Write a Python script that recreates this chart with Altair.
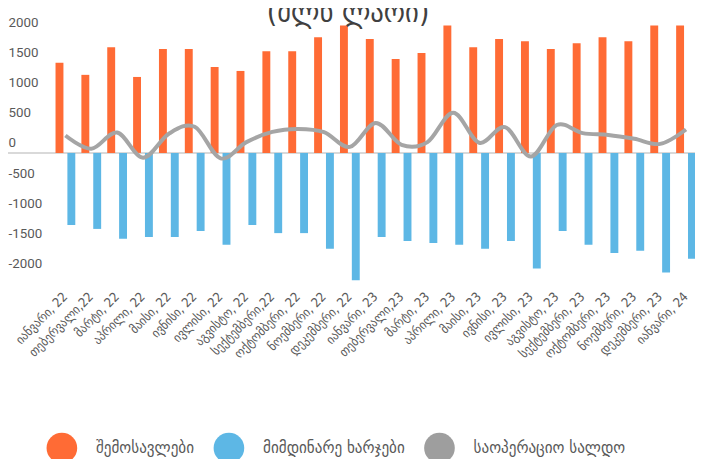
import altair as alt
import pandas as pd

MONTHS = ["იანვარი, 22", "თებერვალი,22", "მარტი, 22", "აპრილი, 22", "მაისი, 22",
          "ივნისი, 22", "ივლისი, 22", "აგვისტო, 22", "სექტემბერი,22", "ოქტომბერი, 22",
          "ნოემბერი, 22", "დეკემბერი, 22", "იანვარი, 23", "თებერვალი,23", "მარტი, 23",
          "აპრილი, 23", "მაისი, 23", "ივნისი, 23", "ივლისი, 23", "აგვისტო, 23",
          "სექტემბერი, 23", "ოქტომბერი, 23", "ნოემბერი, 23", "დეკემბერი, 23", "იანვარი, 24"]

REVENUE = [1500, 1300, 1760, 1265, 1730, 1730, 1430, 1365, 1695, 1695, 1925, 2120,
           1895, 1565, 1665, 2120, 1760, 1895, 1860, 1730, 1825, 1925, 1860, 2120, 2120]
EXPENSES = [-1200, -1265, -1430, -1400, -1400, -1300, -1530, -1200, -1335, -1335, -1595, -2120,
            -1400, -1465, -1500, -1530, -1595, -1465, -1925, -1300, -1530, -1665, -1630, -1990, -1760]
BALANCE = [290, 70, 340, -80, 320, 435, -90, 180, 350, 400, 345, 100,
           500, 135, 180, 670, 170, 430, -60, 465, 330, 300, 235, 150, 390]

SERIES = ["შემოსავლები", "მიმდინარე ხარჯები", "საოპერაციო სალდო"]
COLORS = ["#FF6B35", "#5DB7E5", "#9E9E9E"]
TITLE = "(მლნ ლარი)"
Y_TICKS = [-2000, -1500, -1000, -500, 0, 500, 1000, 1500, 2000]

GEO_FONT = "DejaVu Sans Condensed, DejaVu Sans"
TEXT_COLOR = "#595959"

bars_df = pd.DataFrame({
    "month": MONTHS * 2,
    "series": [SERIES[0]] * len(MONTHS) + [SERIES[1]] * len(MONTHS),
    "value": REVENUE + EXPENSES,
})
line_df = pd.DataFrame({"month": MONTHS, "value": BALANCE})
title_df = pd.DataFrame({"t": [TITLE]})

y_scale = alt.Scale(domain=[-2156, 2123], nice=False, zero=False)
x_scale = alt.Scale(range=[0, 654], paddingInner=0, paddingOuter=0)

x_axis = alt.Axis(title=None, labelAngle=-45, labelAlign="right", labelBaseline="middle",
                  labelPadding=12, ticks=False, domain=False, labelFontSize=13,
                  labelColor=TEXT_COLOR, labelFont=GEO_FONT, labelOverlap=False,
                  labelLimit=0, labelBound=False)
y_axis = alt.Axis(title=None, values=Y_TICKS, domain=False, ticks=False, grid=False,
                  labelAlign="left", labelPadding=45, labelOffset=-10, labelFontSize=13.5,
                  labelColor=TEXT_COLOR, labelFont="Roboto", labelExpr="'' + datum.value",
                  labelOverlap=False, labelBound=False, labelFlush=False)

zero_rule = alt.Chart(title_df).mark_rule(color="#D9D9D9", strokeWidth=2).encode(
    x=alt.value(-45), x2=alt.value(650), y=alt.Y(datum=0, scale=y_scale, axis=y_axis)
)

bars = alt.Chart(bars_df).mark_bar().encode(
    x=alt.X("month:N", sort=MONTHS, scale=x_scale, axis=x_axis),
    xOffset=alt.XOffset("series:N", sort=SERIES[:2],
                        scale=alt.Scale(paddingInner=0.333, paddingOuter=0.257)),
    y=alt.Y("value:Q", scale=y_scale, axis=y_axis),
    color=alt.Color("series:N",
                    scale=alt.Scale(domain=SERIES, range=COLORS),
                    legend=alt.Legend(orient="none", legendX=-6, legendY=412,
                                      direction="horizontal", title=None,
                                      symbolType="circle", symbolSize=961,
                                      symbolStrokeWidth=0, labelFontSize=17,
                                      labelOffset=19, columnPadding=19,
                                      labelColor=TEXT_COLOR, labelFont=GEO_FONT,
                                      padding=0, labelLimit=0)),
)

line = alt.Chart(line_df).mark_line(interpolate="cardinal", strokeWidth=4,
                                    color="#A5A5A5").encode(
    x=alt.X("month:N", sort=MONTHS, scale=x_scale, axis=x_axis),
    y=alt.Y("value:Q", scale=y_scale, axis=y_axis),
)

title = alt.Chart(title_df).mark_text(fontSize=30, color="#404040", font=GEO_FONT,
                                      baseline="alphabetic", align="center").encode(
    text="t:N", x=alt.value(299), y=alt.value(-3)
)

chart = alt.layer(zero_rule, bars, line, title).properties(
    width=650, height=260,
    padding={"left": 45, "top": 15, "right": 0, "bottom": 176},
    autosize=alt.AutoSizeParams(type="none"),
    background="white",
).configure_view(stroke=None)

chart.save("out.html", embed_options={"renderer": "svg", "actions": False})
